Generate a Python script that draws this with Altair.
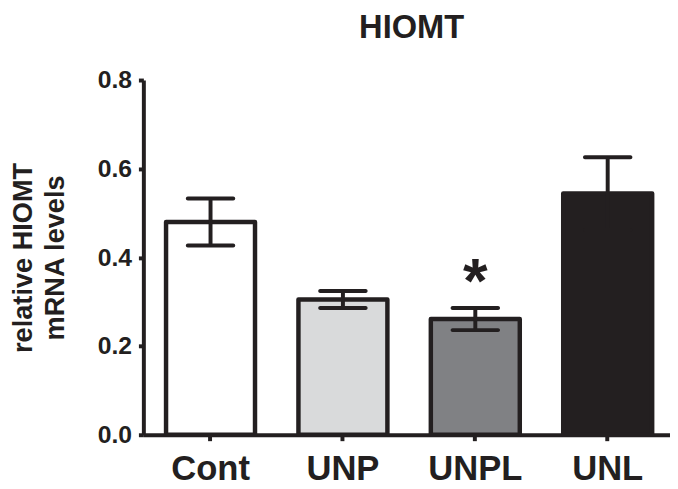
import altair as alt
import pandas as pd

groups = ["Cont", "UNP", "UNPL", "UNL"]
means = [0.480, 0.305, 0.261, 0.544]
sems = [0.053, 0.019, 0.025, 0.082]
fills = ["#ffffff", "#d9dadb", "#808184", "#231f20"]
marks = ["", "", "*", ""]

INK = "#231f20"
FONT = "Liberation Sans"

df = pd.DataFrame({
    "group": groups,
    "mean": means,
    "lo": [m - s for m, s in zip(means, sems)],
    "hi": [m + s for m, s in zip(means, sems)],
    "fill": fills,
    "mark": marks,
})

xenc = alt.X("group:N", sort=groups,
             scale=alt.Scale(paddingInner=0.328, paddingOuter=0.153, align=0.56),
             axis=alt.Axis(title=None, labelAngle=0, labelFontSize=35, labelFont=FONT,
                           labelFontWeight="bold", labelColor=INK, labelPadding=11,
                           domainColor=INK, domainWidth=4, tickColor=INK, tickWidth=4,
                           tickSize=6))

yscale = alt.Scale(domain=[0, 0.8])

bars = alt.Chart(df).mark_bar(stroke=INK, strokeWidth=4.5, strokeJoin="round").encode(
    x=xenc,
    y=alt.Y("mean:Q", scale=yscale,
            axis=alt.Axis(values=[0, 0.2, 0.4, 0.6, 0.8], format=".1f", grid=False,
                          title=["relative HIOMT", "mRNA levels"], titleFontSize=27.5,
                          titleFont=FONT, titleFontWeight="bold", titleColor=INK,
                          titleLineHeight=32, titlePadding=28,
                          labelFontSize=25, labelFont=FONT, labelFontWeight="bold",
                          labelColor=INK, labelPadding=7,
                          domainColor=INK, domainWidth=4, tickColor=INK, tickWidth=4,
                          tickSize=5)),
    fill=alt.Fill("fill:N", scale=None),
)

err = alt.Chart(df).mark_rule(color=INK, strokeWidth=4).encode(
    x=alt.X("group:N", sort=groups), y=alt.Y("lo:Q", scale=yscale), y2="hi:Q")

cap_hi = alt.Chart(df).mark_tick(color=INK, opacity=1, thickness=4, size=50,
                                 cornerRadius=2).encode(
    x=alt.X("group:N", sort=groups), y=alt.Y("hi:Q", scale=yscale))
cap_lo = alt.Chart(df).mark_tick(color=INK, opacity=1, thickness=4, size=50,
                                 cornerRadius=2).encode(
    x=alt.X("group:N", sort=groups), y=alt.Y("lo:Q", scale=yscale))

star = alt.Chart(df).mark_text(font=FONT, fontWeight="bold", fontSize=64, color=INK,
                               baseline="alphabetic", dy=-6).encode(
    x=alt.X("group:N", sort=groups), y=alt.Y("hi:Q", scale=yscale), text="mark:N")

chart = alt.layer(bars, err, cap_hi, cap_lo, star).properties(
    width=533, height=359,
    padding={"left": 137, "top": 70, "right": 0, "bottom": 52},
    autosize=alt.AutoSizeParams(type="none"),
    title=alt.TitleParams("HIOMT", font=FONT, fontSize=33, fontWeight="bold", color=INK,
                          anchor="middle", dx=5, offset=24),
).configure_view(stroke=None)

chart.save("out.html", embed_options={"renderer": "svg", "actions": False})
